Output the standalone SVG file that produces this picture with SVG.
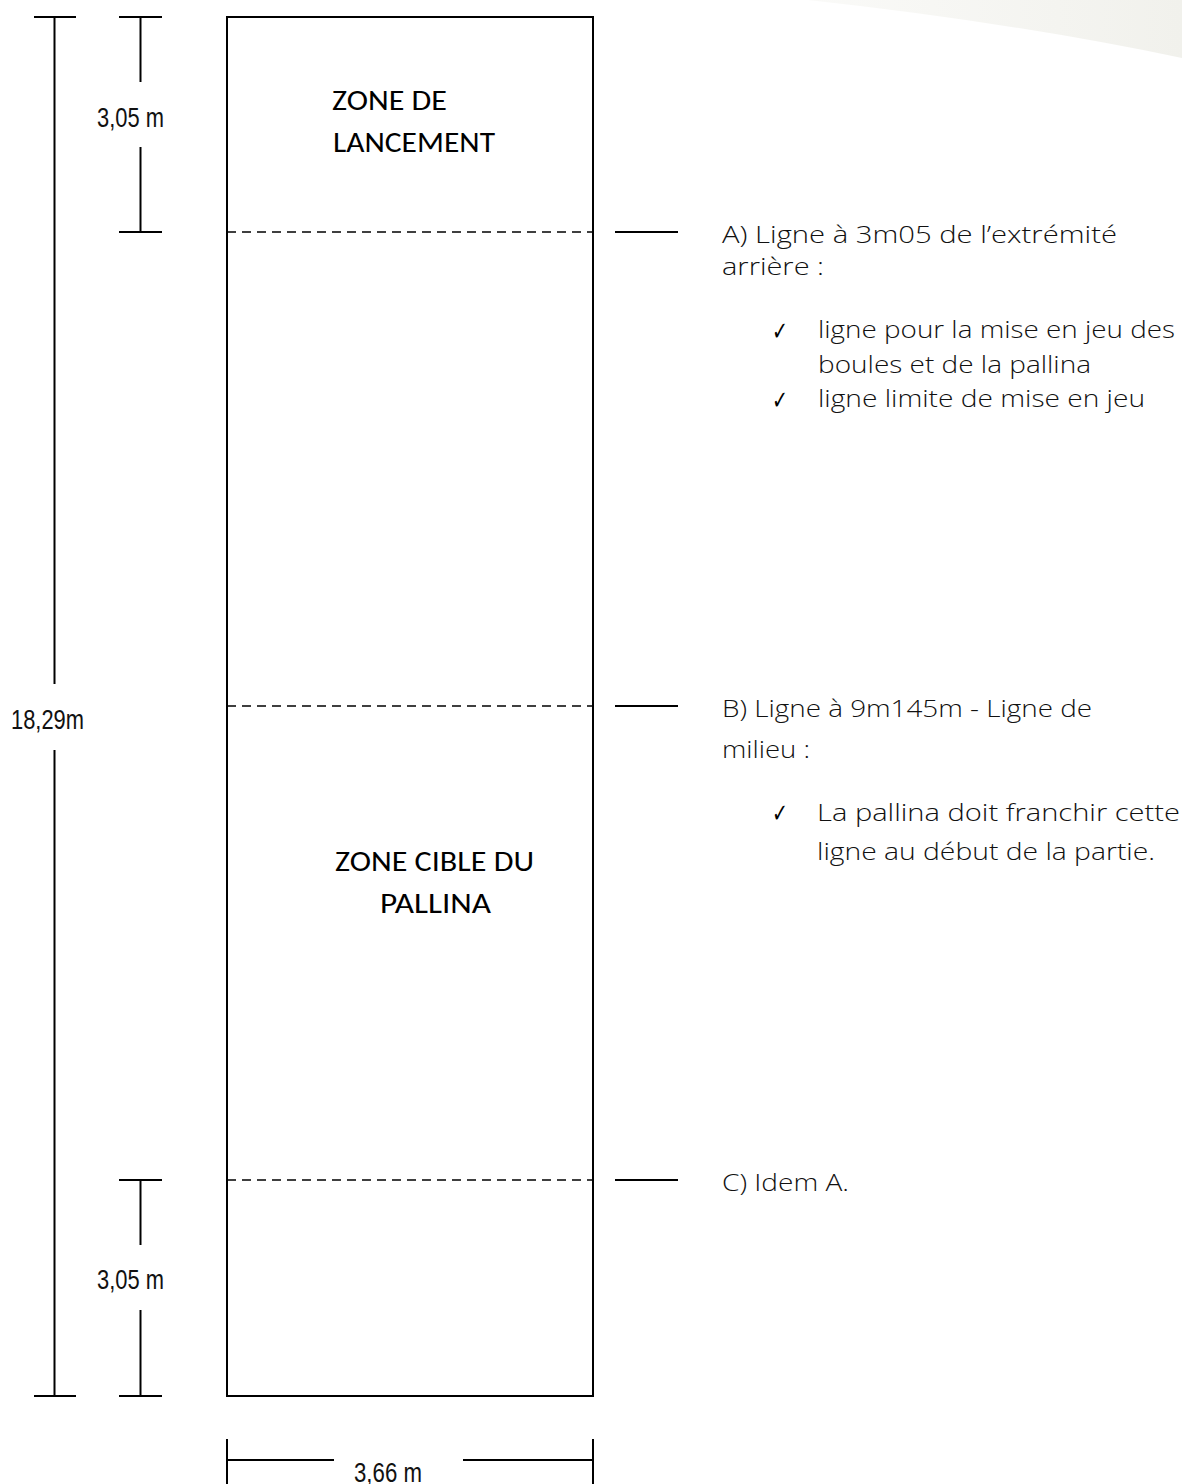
<svg xmlns="http://www.w3.org/2000/svg" width="1182" height="1484" viewBox="0 0 1182 1484">
  <defs>
    <linearGradient id="swoosh" x1="0" y1="0" x2="1" y2="0">
      <stop offset="0" stop-color="#fafaf8"/>
      <stop offset="1" stop-color="#f1f1ec"/>
    </linearGradient>
    <style>
      .ln { stroke: #000; stroke-width: 2; fill: none; }
      .dash { stroke: #000; stroke-width: 1.7; stroke-dasharray: 9 6; fill: none; }
      .dim { font-family: "Liberation Sans", Arial, sans-serif; font-size: 28px; fill: #111; }
      .zone { font-family: "Carlito", "Lato", "Noto Sans", sans-serif; font-size: 29px; fill: #000; }
      .note { font-family: "Open Sans", "Lato", "Noto Sans", sans-serif; font-weight: 300; font-size: 24px; fill: #111; }
      .chk { font-family: "DejaVu Sans", sans-serif; font-size: 26px; fill: #000; }
    </style>
  </defs>
  <rect width="1182" height="1484" fill="#fff"/>
  <path d="M 808 0 Q 1010 22 1182 58 L 1182 0 Z" fill="url(#swoosh)"/>

  <g id="court">
    <rect x="227" y="17" width="366" height="1379" class="ln"/>
    <line x1="227" y1="232" x2="593" y2="232" class="dash"/>
    <line x1="227" y1="706" x2="593" y2="706" class="dash"/>
    <line x1="227" y1="1180" x2="593" y2="1180" class="dash"/>
    <text class="zone" x="332" y="110" textLength="115" lengthAdjust="spacingAndGlyphs">ZONE DE</text>
    <text class="zone" x="333" y="152" textLength="162" lengthAdjust="spacingAndGlyphs">LANCEMENT</text>
    <text class="zone" x="335" y="871" textLength="199" lengthAdjust="spacingAndGlyphs">ZONE CIBLE DU</text>
    <text class="zone" x="380" y="913" textLength="111" lengthAdjust="spacingAndGlyphs">PALLINA</text>
  </g>

  <g id="dim-total">
    <line x1="34" y1="17" x2="76" y2="17" class="ln"/>
    <line x1="34" y1="1396" x2="76" y2="1396" class="ln"/>
    <line x1="54.5" y1="17" x2="54.5" y2="684" class="ln"/>
    <line x1="54.5" y1="750" x2="54.5" y2="1396" class="ln"/>
    <text class="dim" x="11" y="729" textLength="73" lengthAdjust="spacingAndGlyphs">18,29m</text>
  </g>

  <g id="dim-top">
    <line x1="119" y1="17" x2="162" y2="17" class="ln"/>
    <line x1="119" y1="232" x2="162" y2="232" class="ln"/>
    <line x1="140.5" y1="17" x2="140.5" y2="82" class="ln"/>
    <line x1="140.5" y1="147" x2="140.5" y2="232" class="ln"/>
    <text class="dim" x="97" y="127" textLength="67" lengthAdjust="spacingAndGlyphs">3,05 m</text>
  </g>

  <g id="dim-bottom">
    <line x1="119" y1="1180" x2="162" y2="1180" class="ln"/>
    <line x1="119" y1="1396" x2="162" y2="1396" class="ln"/>
    <line x1="140.5" y1="1180" x2="140.5" y2="1245" class="ln"/>
    <line x1="140.5" y1="1310" x2="140.5" y2="1396" class="ln"/>
    <text class="dim" x="97" y="1289" textLength="67" lengthAdjust="spacingAndGlyphs">3,05 m</text>
  </g>

  <g id="dim-width">
    <line x1="227" y1="1439" x2="227" y2="1484" class="ln"/>
    <line x1="593" y1="1439" x2="593" y2="1484" class="ln"/>
    <line x1="227" y1="1460" x2="334" y2="1460" class="ln"/>
    <line x1="463" y1="1460" x2="593" y2="1460" class="ln"/>
    <text class="dim" x="354" y="1482" textLength="68" lengthAdjust="spacingAndGlyphs">3,66 m</text>
  </g>

  <g id="connectors">
    <line x1="615" y1="232" x2="678" y2="232" class="ln"/>
    <line x1="615" y1="706" x2="678" y2="706" class="ln"/>
    <line x1="615" y1="1180" x2="678" y2="1180" class="ln"/>
  </g>

  <g id="note-a">
    <text class="note" x="722" y="243" textLength="395" lengthAdjust="spacingAndGlyphs">A) Ligne à 3m05 de l’extrémité</text>
    <text class="note" x="722" y="275" textLength="102" lengthAdjust="spacingAndGlyphs">arrière :</text>
    <text class="chk" x="772" y="340" textLength="16" lengthAdjust="spacingAndGlyphs">✓</text>
    <text class="note" x="818" y="338" textLength="357" lengthAdjust="spacingAndGlyphs">ligne pour la mise en jeu des</text>
    <text class="note" x="818" y="373" textLength="273" lengthAdjust="spacingAndGlyphs">boules et de la pallina</text>
    <text class="chk" x="772" y="409" textLength="16" lengthAdjust="spacingAndGlyphs">✓</text>
    <text class="note" x="818" y="407" textLength="327" lengthAdjust="spacingAndGlyphs">ligne limite de mise en jeu</text>
  </g>

  <g id="note-b">
    <text class="note" x="722" y="717" textLength="370" lengthAdjust="spacingAndGlyphs">B) Ligne à 9m145m - Ligne de</text>
    <text class="note" x="722" y="758" textLength="88" lengthAdjust="spacingAndGlyphs">milieu :</text>
    <text class="chk" x="772" y="822" textLength="16" lengthAdjust="spacingAndGlyphs">✓</text>
    <text class="note" x="817" y="821" textLength="363" lengthAdjust="spacingAndGlyphs">La pallina doit franchir cette</text>
    <text class="note" x="817" y="860" textLength="338" lengthAdjust="spacingAndGlyphs">ligne au début de la partie.</text>
  </g>

  <g id="note-c">
    <text class="note" x="722" y="1191" textLength="127" lengthAdjust="spacingAndGlyphs">C) Idem A.</text>
  </g>
</svg>
